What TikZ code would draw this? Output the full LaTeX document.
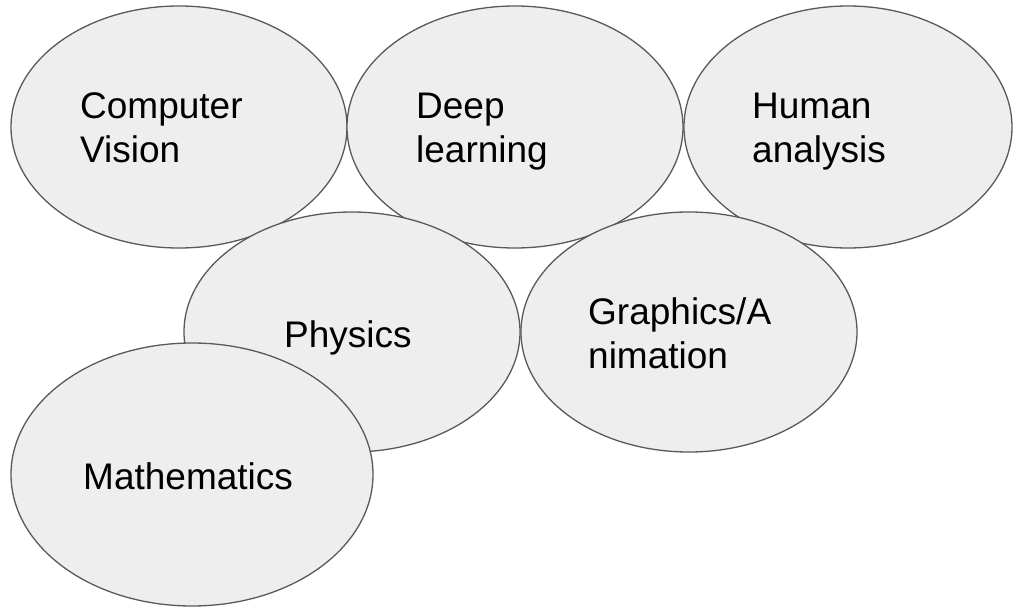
\documentclass[tikz,border=0pt]{standalone}
\usepackage{fontspec}
\setmainfont{Liberation Sans}
\usetikzlibrary{shapes.geometric}
\definecolor{blobfill}{HTML}{EEEEEE}
\definecolor{blobline}{HTML}{595959}
\tikzset{
  blob/.style={ellipse, draw=blobline, fill=blobfill, line width=1.3pt, inner sep=0pt},
  lbl/.style={anchor=base west, inner sep=0pt, align=left, text=black,
              font=\fontsize{37}{44}\selectfont},
}
\begin{document}
\begin{tikzpicture}[x=1pt,y=-1pt]
\useasboundingbox (0,0) rectangle (1013,607);
% top row (labels anchored at the baseline of their last line)
\node[blob, minimum width=336pt, minimum height=242pt] (cv) at (179,127) {};
\node[lbl] (cvt) at (80,163) {Computer\\Vision};
\node[blob, minimum width=336pt, minimum height=242pt] (dl) at (515,127) {};
\node[lbl] (dlt) at (416,163) {Deep\\learning};
\node[blob, minimum width=328pt, minimum height=242pt] (ha) at (848,127) {};
\node[lbl] (hat) at (752,163) {Human\\analysis};
% middle row
\node[blob, minimum width=336pt, minimum height=240pt] (ph) at (352,332) {};
\node[lbl] (pht) at (284,347) {Physics};
\node[blob, minimum width=336pt, minimum height=240pt] (ga) at (689,332) {};
\node[lbl] (gat) at (588,368) {Graphics/A\\nimation};
% bottom
\node[blob, minimum width=362pt, minimum height=263pt] (ma) at (192,474.5) {};
\node[lbl] (mat) at (83,489) {Mathematics};
\end{tikzpicture}
\end{document}
